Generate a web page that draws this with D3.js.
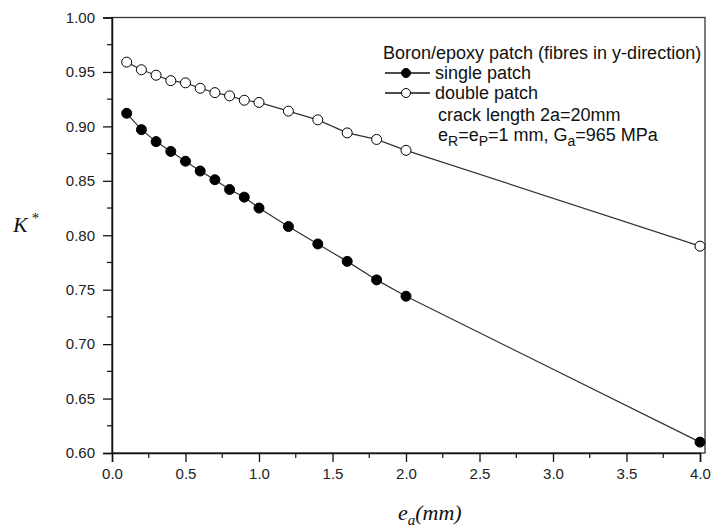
<!DOCTYPE html>
<html><head><meta charset="utf-8">
<script src="https://cdn.jsdelivr.net/npm/d3@7"></script>
<style>body{margin:0;background:#fff}svg{display:block}</style>
</head><body>
<svg id="c" width="713" height="531"></svg>
<script>
const xVals = [0.1,0.2,0.3,0.4,0.5,0.6,0.7,0.8,0.9,1.0,1.2,1.4,1.6,1.8,2.0,4.0];
const singlePatch = [0.912,0.897,0.886,0.877,0.868,0.859,0.851,0.842,0.835,0.825,0.808,0.792,0.776,0.759,0.744,0.610];
const doublePatch = [0.959,0.952,0.947,0.942,0.940,0.935,0.931,0.928,0.924,0.922,0.914,0.906,0.894,0.888,0.878,0.790];
const xTicks = [0,0.5,1,1.5,2,2.5,3,3.5,4];
const yTicks = [0.60,0.65,0.70,0.75,0.80,0.85,0.90,0.95,1.00];

const svg = d3.select("#c");
const L=112, R=705, T=17.5, B=453;
const x = d3.scaleLinear().domain([0,4]).range([L,700]);
const y = d3.scaleLinear().domain([0.6,1.0]).range([B,T]);
const font = "'Liberation Sans', Arial, sans-serif";

// frame
svg.append("rect").attr("x",L).attr("y",T).attr("width",R-L).attr("height",B-T)
  .attr("fill","none").attr("stroke","#333").attr("stroke-width",1.3);

// minor ticks
const xMinor = d3.range(0.25,4,0.5);
svg.append("g").selectAll("line").data(xMinor).join("line")
  .attr("x1",d=>x(d)).attr("x2",d=>x(d)).attr("y1",B).attr("y2",B+5).attr("stroke","#111").attr("stroke-width",1.2);
const yMinor = d3.range(0.625,1.0,0.05);
svg.append("g").selectAll("line").data(yMinor).join("line")
  .attr("y1",d=>y(d)).attr("y2",d=>y(d)).attr("x1",L).attr("x2",L-5).attr("stroke","#111").attr("stroke-width",1.2);

const xAxis = svg.append("g").attr("transform",`translate(0,${B})`)
  .call(d3.axisBottom(x).tickValues(xTicks).tickFormat(d3.format(".1f")).tickSize(9).tickPadding(6));
const yAxis = svg.append("g").attr("transform",`translate(${L},0)`)
  .call(d3.axisLeft(y).tickValues(yTicks).tickFormat(d3.format(".2f")).tickSize(9).tickPadding(8));
[xAxis,yAxis].forEach(a=>{
  a.select(".domain").attr("stroke","#111").attr("stroke-width",1.5);
  a.selectAll(".tick line").attr("stroke","#111").attr("stroke-width",1.3);
  a.selectAll("text").attr("font-family",font).attr("font-size",15).attr("fill","#222");
});

const line = d3.line().x(d=>x(d[0])).y(d=>y(d[1]));
const series = [
  {vals: singlePatch, fill:"#000"},
  {vals: doublePatch, fill:"#fff"}
];
series.forEach(s=>{
  const pts = xVals.map((v,i)=>[v,s.vals[i]]);
  svg.append("path").datum(pts).attr("d",line).attr("fill","none").attr("stroke","#333").attr("stroke-width",1.2);
  svg.append("g").selectAll("circle").data(pts).join("circle")
    .attr("cx",d=>x(d[0])).attr("cy",d=>y(d[1])).attr("r",5)
    .attr("fill",s.fill).attr("stroke","#000").attr("stroke-width",1);
});

// legend
const lg = svg.append("g").attr("font-family",font).attr("font-size",18).attr("fill","#111");
lg.append("text").attr("x",383).attr("y",59).text("Boron/epoxy patch (fibres in y-direction)");
[{t:"single patch",f:"#000",yy:73},{t:"double patch",f:"#fff",yy:93}].forEach(e=>{
  lg.append("line").attr("x1",385).attr("x2",430).attr("y1",e.yy).attr("y2",e.yy).attr("stroke","#111").attr("stroke-width",1.3);
  lg.append("circle").attr("cx",406).attr("cy",e.yy).attr("r",4.5).attr("fill",e.f).attr("stroke","#000");
  lg.append("text").attr("x",435).attr("y",e.yy+5.5).text(e.t);
});
lg.append("text").attr("x",438).attr("y",121).text("crack length 2a=20mm");
const t5 = lg.append("text").attr("x",438).attr("y",141);
t5.append("tspan").text("e");
t5.append("tspan").attr("font-size",14).attr("dy",5).text("R");
t5.append("tspan").attr("dy",-5).text("=e");
t5.append("tspan").attr("font-size",14).attr("dy",5).text("P");
t5.append("tspan").attr("dy",-5).text("=1 mm, G");
t5.append("tspan").attr("font-size",14).attr("dy",5).text("a");
t5.append("tspan").attr("dy",-5).text("=965 MPa");

// axis titles
const serif = "'Liberation Serif', 'Times New Roman', serif";
const yl = svg.append("text").attr("x",13).attr("y",232).attr("font-family",serif).attr("font-style","italic").attr("font-size",22).attr("fill","#111");
yl.append("tspan").text("K");
yl.append("tspan").attr("font-style","normal").attr("font-size",15).attr("dy",-9).attr("dx",4).text("*");
const xl = svg.append("text").attr("x",398).attr("y",520).attr("font-family",serif).attr("font-style","italic").attr("font-size",22).attr("fill","#111");
xl.append("tspan").text("e");
xl.append("tspan").attr("font-size",15).attr("dy",5).text("a");
xl.append("tspan").attr("dy",-5).text("(mm)");
</script>
</body></html>
